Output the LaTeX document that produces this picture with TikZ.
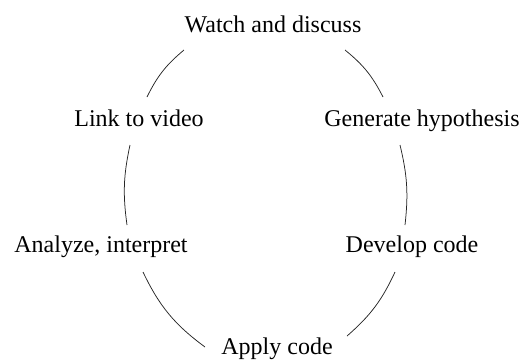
\documentclass[tikz,border=0pt]{standalone}
\usepackage{fontspec}
\setmainfont{Liberation Serif}
\begin{document}
\begin{tikzpicture}[x=1pt,y=-1pt,
  lbl/.style={anchor=base,inner sep=0pt,font=\fontsize{24}{28}\selectfont},
  link/.style={line width=0.75pt,draw=black!85}]
\useasboundingbox (0,0) rectangle (530,360);
\node[lbl] (watch) at (273,32) {Watch and discuss};
\node[lbl] (vid)   at (139,126) {Link to video};
\node[lbl] (gen)   at (422,126) {Generate hypothesis};
\node[lbl] (anal)  at (101,252) {Analyze, interpret};
\node[lbl] (dev)   at (412,252) {Develop code};
\node[lbl] (apply) at (277,354) {Apply code};
% arc ends
\coordinate (w1) at (184,50);  \coordinate (v1) at (147,97);
\coordinate (v2) at (130,145); \coordinate (a1) at (127,225);
\coordinate (a2) at (143,272); \coordinate (p1) at (205,347);
\coordinate (p2) at (347,336); \coordinate (d1) at (395,272);
\coordinate (d2) at (405,225); \coordinate (g1) at (400,145);
\coordinate (g2) at (383,97);  \coordinate (w2) at (345,50);
\draw[link] (w1) to[bend right=12] (v1);
\draw[link] (v2) to[bend right=10] (a1);
\draw[link] (a2) to[bend right=14] (p1);
\draw[link] (p2) to[bend right=12] (d1);
\draw[link] (d2) to[bend right=10] (g1);
\draw[link] (g2) to[bend right=12] (w2);
\end{tikzpicture}
\end{document}
